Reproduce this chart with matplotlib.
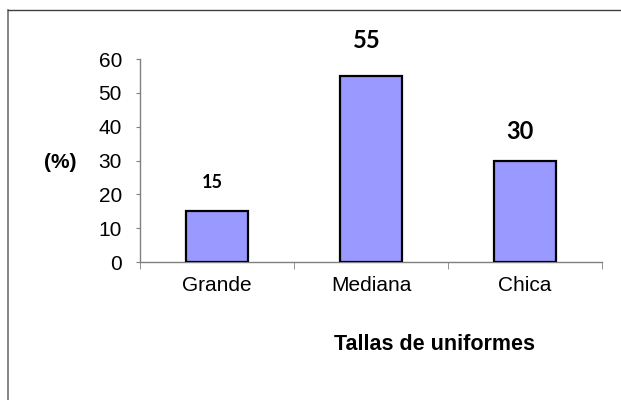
import matplotlib
matplotlib.use("Agg")
import matplotlib.pyplot as plt
from matplotlib.lines import Line2D

categorias = ["Grande", "Mediana", "Chica"]
porcentajes = [15, 55, 30]
etiquetas = ["15", "55", "30"]
tam_etiqueta = [13, 17, 17]
y_ticks = [0, 10, 20, 30, 40, 50, 60]

plt.rcParams['font.family'] = ['Liberation Sans', 'DejaVu Sans']

fig = plt.figure(figsize=(6.21, 4.0), dpi=100)
ax = fig.add_axes([0.2254, 0.345, 0.7440, 0.5075])

x = range(len(categorias))
ax.bar(x, porcentajes, width=0.4, color="#9999ff", edgecolor="black", linewidth=1.6, zorder=3)

ax.set_xlim(-0.5, len(categorias) - 0.5)
ax.set_ylim(0, 60)
ax.set_yticks(y_ticks)
ax.set_xticks(list(x))
ax.set_xticklabels(categorias, fontsize=15)
ax.set_xticks([i - 0.5 for i in range(len(categorias) + 1)], minor=True)
ax.tick_params(axis="x", which="major", length=0, pad=10)
ax.tick_params(axis="x", which="minor", length=5, color="#808080", direction="out")
ax.tick_params(axis="y", length=3, color="#808080", labelsize=15, pad=10)

for s in ["top", "right"]:
    ax.spines[s].set_visible(False)
for s in ["left", "bottom"]:
    ax.spines[s].set_color("#808080")
    ax.spines[s].set_linewidth(1.0)

# etiquetas de valor sobre las barras
desplaz = [8.35, 10.5, 8.7]
for i, (v, t) in enumerate(zip(porcentajes, etiquetas)):
    ax.text(i - 0.03, v + desplaz[i], t, ha="center", va="center", fontweight="bold",
            fontsize=tam_etiqueta[i], family=["Lato", "DejaVu Sans"], clip_on=False)

fig.text(60 / 621, 1 - 163 / 400, "(%)", ha="center", va="center", fontweight="bold", fontsize=15)
fig.text(434 / 621, 1 - 345 / 400, "Tallas de uniformes", ha="center", va="center",
         fontweight="bold", fontsize=15.5)

# borde del área del gráfico
fig.add_artist(Line2D([8 / 621, 8 / 621], [0, 1 - 10 / 400], color="#707070", linewidth=1.2))
fig.add_artist(Line2D([8 / 621, 1], [1 - 10 / 400, 1 - 10 / 400], color="#404040", linewidth=1.0))

fig.savefig("out.png", dpi=100)
